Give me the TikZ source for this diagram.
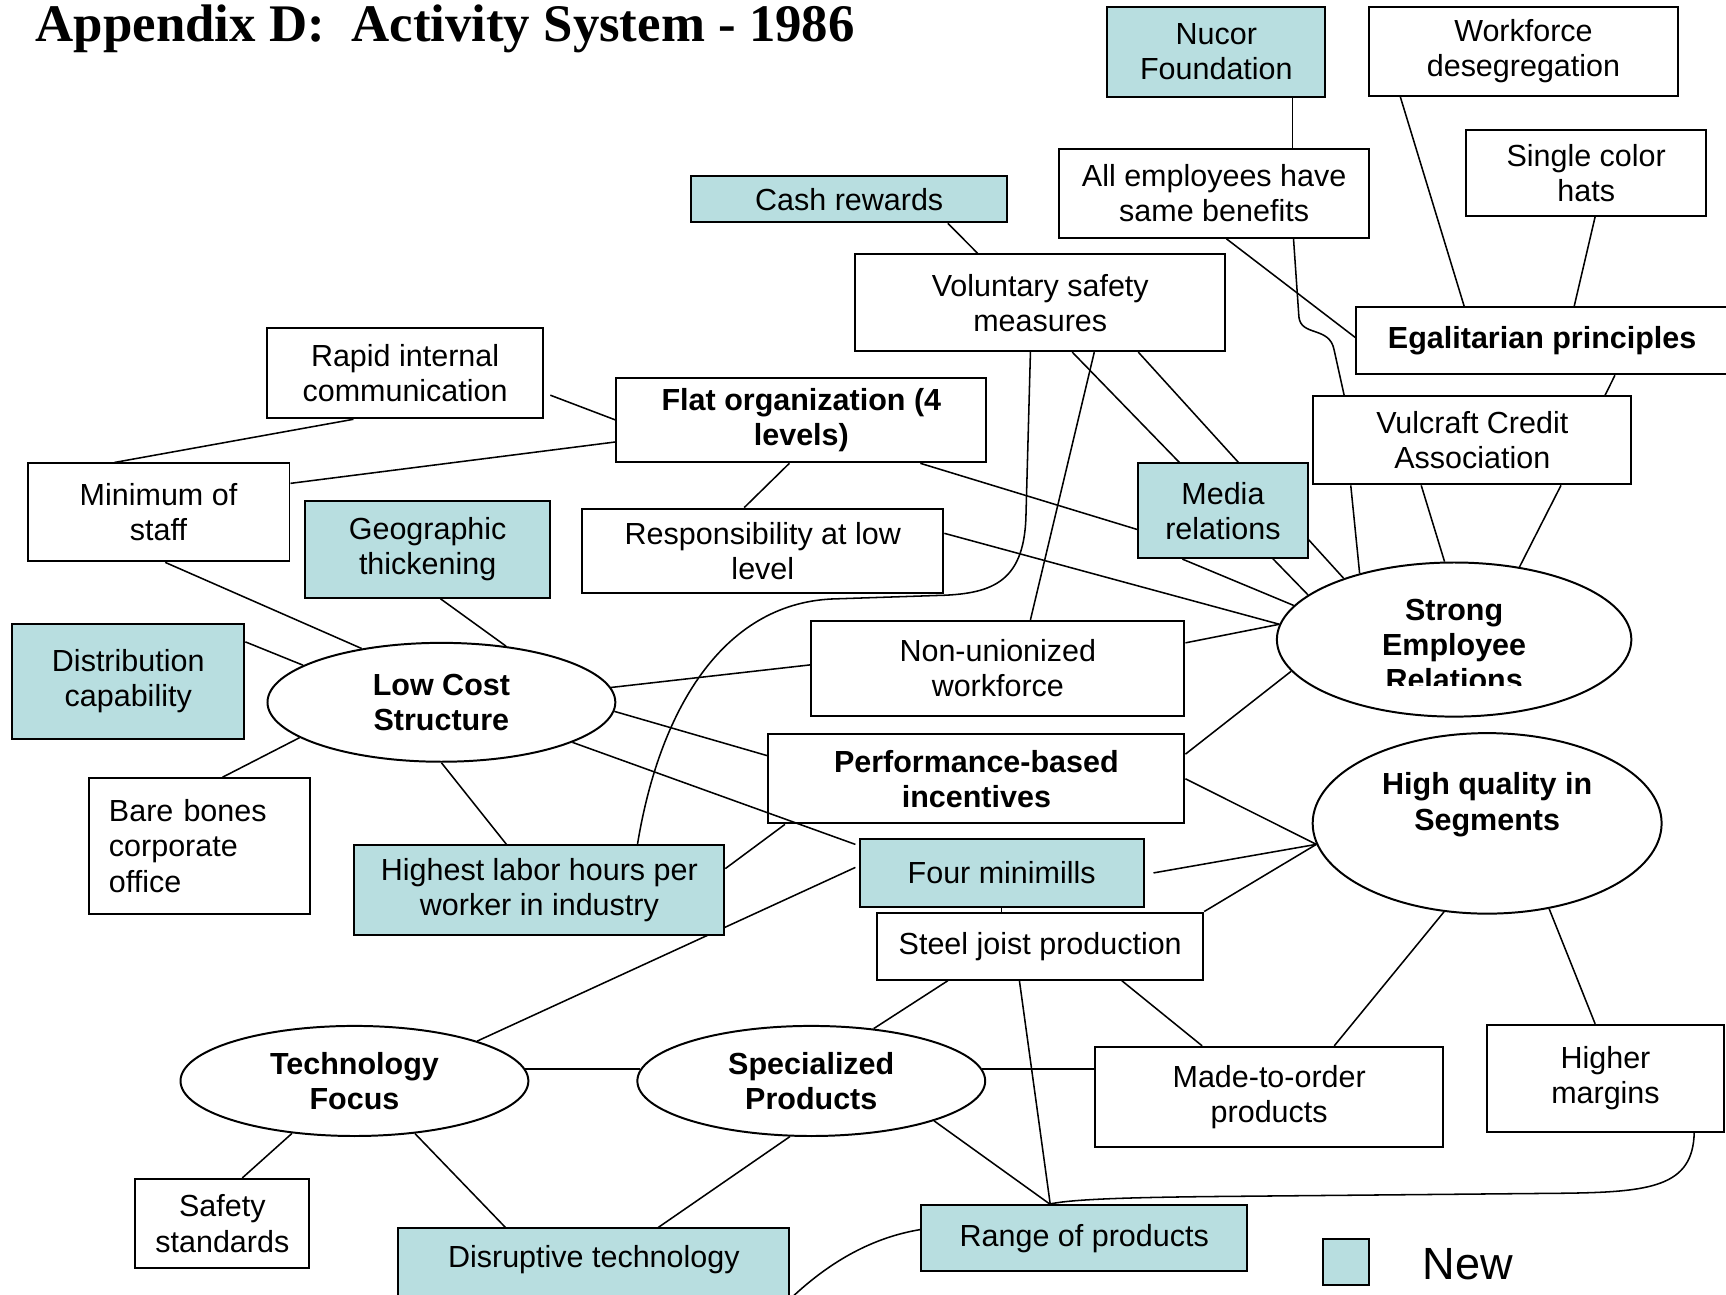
\documentclass[tikz,border=0pt]{standalone}
\usepackage{fontspec}
\setmainfont{Liberation Sans}
\newfontfamily\titlefont{Liberation Serif}
\usepackage{xcolor}
\usepackage{tikz}
\usetikzlibrary{shapes.geometric,backgrounds}
\definecolor{newfill}{HTML}{B8DEE0}

\begin{document}
\begin{tikzpicture}[x=1pt, y=-1pt,
      every node/.style={font=\fontsize{27.7}{32}\selectfont},
      heavy/.style={font=\fontsize{27.7}{32}\selectfont\bfseries},
      box/.style={draw, line width=1.8pt, inner sep=0pt, align=center},
      newbox/.style={box, fill=newfill},
      oval/.style={draw, ellipse, line width=1.8pt, inner sep=0pt, align=center, heavy}]
    \useasboundingbox (0,0) rectangle (1568,1176);
    \node[anchor=base west, font=\titlefont\fontsize{48}{54}\selectfont\bfseries] (title) at (29,38) {Appendix D:\ \ Activity System - 1986};

    % top right
    \node[newbox, minimum width=198pt, minimum height=82pt] (nucor) at (1105,47) {Nucor\\Foundation};
    \node[box, minimum width=280pt, minimum height=81pt] (desegr) at (1384,46.5) {Workforce\\desegregation};
    \node[box, minimum width=218pt, minimum height=78pt] (hats) at (1441,157) {Single color\\hats};
    \node[box, minimum width=282pt, minimum height=81pt] (benefits) at (1103,175.5) {All employees have\\same benefits};
    \node[newbox, minimum width=287pt, minimum height=42pt] (cash) at (771.5,181) {Cash rewards};
    \node[box, minimum width=336pt, minimum height=88pt] (safety) at (945,275) {Voluntary safety\\measures};
    \node[box, heavy, minimum width=338pt, minimum height=61pt] (egal) at (1401,309.5) {Egalitarian principles};
    \node[box, minimum width=289pt, minimum height=80pt] (vulcraft) at (1337.5,400) {Vulcraft Credit\\Association};
    \node[newbox, minimum width=154pt, minimum height=86pt] (media) at (1111,464) {Media\\relations};

    % middle
    \node[box, minimum width=250pt, minimum height=82pt] (rapid) at (368,339) {Rapid internal\\communication};
    \node[box, heavy, minimum width=336pt, minimum height=77pt] (flat) at (728,381.5) {Flat organization (4\\levels)};
    \node[box, minimum width=238pt, minimum height=89pt] (minstaff) at (144,465.5) {Minimum of\\staff};
    \node[newbox, minimum width=223pt, minimum height=88pt] (geo) at (388.5,499) {Geographic\\thickening};
    \node[box, minimum width=328pt, minimum height=77pt] (resp) at (693,500.5) {Responsibility at low\\level};
    \node[newbox, minimum width=211pt, minimum height=104pt] (distrib) at (116.5,619) {Distribution\\capability};
    \node[box, minimum width=339pt, minimum height=86pt] (nonunion) at (906.5,607) {Non-unionized\\workforce};
    \node[box, heavy, minimum width=378pt, minimum height=81pt] (perf) at (887,707.5) {Performance-based\\incentives};
    \node[box, align=left, text width=165pt, inner xsep=18pt, minimum height=123pt] (barebones) at (181.5,768.5) {Bare bones\\corporate\\office};
    \node[newbox, minimum width=336pt, minimum height=81pt] (highest) at (490,808.5) {Highest labor hours per\\worker in industry};
    \node[newbox, minimum width=258pt, minimum height=62pt] (fourmm) at (910,793) {Four minimills};
    \node[box, minimum width=296pt, minimum height=61pt] (joist) at (945,859.5) {Steel joist production};

    % bottom
    \node[box, minimum width=316pt, minimum height=91pt] (madeto) at (1153,996.5) {Made-to-order\\products};
    \node[box, minimum width=215pt, minimum height=97pt] (margins) at (1458.5,979.5) {Higher\\margins};
    \node[box, minimum width=158pt, minimum height=81pt] (safestd) at (202,1111.5) {Safety\\standards};
    \node[newbox, anchor=north, minimum width=355pt, inner ysep=0pt, text height=36pt, text depth=39pt] (disrupt) at (539.5,1115) {Disruptive technology};
    \node[newbox, minimum width=296pt, minimum height=60pt] (range) at (985,1125) {Range of products};

    % strategic themes
    \node[oval, minimum width=316pt, minimum height=108pt] (lowcost) at (401,638) {Low Cost\\Structure};
    \node[oval, minimum width=322pt, minimum height=140pt] (strong) at (1321,581) {};
    \begin{scope}
      \clip (1165,515) rectangle (1480,623);
      \node[heavy, align=center] (strongtext) at (1321,586) {Strong\\Employee\\Relations};
    \end{scope}
    \node[oval, minimum width=317pt, minimum height=164pt] (quality) at (1351,748) {};
    \node[heavy, align=center] (qualitytext) at (1351,731) {High quality in\\Segments};
    \node[oval, minimum width=316pt, minimum height=100pt] (tech) at (322,982) {Technology\\Focus};
    \node[oval, minimum width=316pt, minimum height=100pt] (special) at (737,982) {Specialized\\Products};

    % legend
    \node[newbox, minimum width=42pt, minimum height=41pt] (legend) at (1223,1146.5) {};
    \node[anchor=base west, font=\fontsize{41}{46}\selectfont] (newlabel) at (1289,1162) {New};

    \begin{scope}[on background layer={line width=1.4pt}]
      % egalitarian cluster
      \draw ([xshift=169pt]nucor.south west) -- ([xshift=213pt]benefits.north west);
      \draw ([xshift=29pt]desegr.south west) -- ([xshift=99pt]egal.north west);
      \draw ([xshift=118pt]hats.south west) -- ([xshift=199pt]egal.north west);
      \draw ([xshift=153pt]benefits.south west) -- ([yshift=3pt]egal.west);
      \draw ([xshift=214pt]benefits.south west) -- (1180,288) .. controls (1182,306) and (1208,296) .. (1212,318) -- ([xshift=29pt]vulcraft.north west);
      \draw ([xshift=236pt]egal.south west) -- ([xshift=266pt]vulcraft.north west);
      \draw ([xshift=35pt]vulcraft.south west) -- (strong.145);
      \draw ([xshift=99pt]vulcraft.south west) -- (strong.97);
      \draw ([xshift=226pt]vulcraft.south west) -- (strong.48);
      % voluntary safety
      \draw ([xshift=234pt]cash.south west) -- ([xshift=112pt]safety.north west);
      \draw ([xshift=198pt]safety.south west) -- (strong.163);
      \draw ([xshift=258pt]safety.south west) -- (strong.151);
      \draw ([xshift=218pt]safety.south west) -- ([xshift=200pt]nonunion.north west);
      \draw ([xshift=160pt]safety.south west) -- (932,470) .. controls (930,530) and (900,540) .. (850,541) -- (760,544) .. controls (660,546) and (600,640) .. ([xshift=258pt]highest.north west);
      % flat organization
      \draw ([xshift=79pt]rapid.south west) -- ([xshift=80pt]minstaff.north west);
      \draw ([xshift=6pt,yshift=-20pt]rapid.east) -- (flat.west);
      \draw ([yshift=-19pt]minstaff.north east) -- ([yshift=-20pt]flat.west);
      \draw ([xshift=158pt]flat.south west) -- ([xshift=148pt]resp.north west);
      \draw ([xshift=277pt]flat.south west) -- ([yshift=-17pt]media.west);
      \draw ([yshift=16pt]resp.east) -- (strong.175);
      \draw ([yshift=23pt]nonunion.east) -- (strong.175);
      \draw ([xshift=41pt]media.south west) -- (strong.168);
      % low cost
      \draw ([xshift=126pt]minstaff.south west) -- (lowcost.146);
      \draw ([xshift=124pt]geo.south west) -- (lowcost.41);
      \draw ([yshift=-17pt]distrib.north east) -- (lowcost.165);
      \draw (lowcost.5) -- ([yshift=3pt]nonunion.west);
      \draw (lowcost.357) -- ([yshift=21pt]perf.west);
      \draw (lowcost.343) -- ([xshift=-3pt,yshift=-6pt]fourmm.north west);
      \draw (lowcost.south) -- ([xshift=139pt]highest.north west);
      \draw (lowcost.194) -- ([xshift=122pt]barebones.north west);
      % incentives and quality
      \draw ([yshift=-22pt]highest.north east) -- ([xshift=16pt]perf.south west);
      \draw ([yshift=-19pt]perf.north east) -- (strong.191);
      \draw (perf.east) -- (quality.187);
      \draw ([xshift=8pt]fourmm.east) -- (quality.187);
      \draw (joist.north east) -- (quality.187);
      \draw (fourmm.south) -- (fourmm.south |- joist.north);
      \draw ([xshift=-3pt,yshift=5pt]fourmm.west) -- (tech.18);
      % products
      \draw ([xshift=65pt]joist.south west) -- (special.40);
      \draw ([xshift=130pt]joist.south west) -- ([xshift=118pt]range.north west);
      \draw ([xshift=223pt]joist.south west) -- ([xshift=98pt]madeto.north west);
      \draw (quality.244) -- ([xshift=218pt]madeto.north west);
      \draw (quality.306) -- ([xshift=99pt]margins.north west);
      \draw (tech.4) -- (special.176);
      \draw (special.4) -- (special.4 -| madeto.west);
      \draw (tech.220) -- ([xshift=98pt]safestd.north west);
      \draw (tech.319) -- ([xshift=98pt]disrupt.north west);
      \draw (special.249) -- ([xshift=237pt]disrupt.north west);
      \draw (special.342) -- ([xshift=118pt]range.north west);
      \draw ([xshift=189pt]margins.south west) .. controls (1538,1078) and (1500,1083) .. (1420,1084) -- (1100,1087) .. controls (1010,1088) and (970,1090) .. ([xshift=116pt]range.north west);
      \draw ([yshift=-65pt]disrupt.north east) .. controls (760,1140) and (800,1123) .. ([yshift=8pt]range.west);
    \end{scope}
  \end{tikzpicture}
\end{document}
